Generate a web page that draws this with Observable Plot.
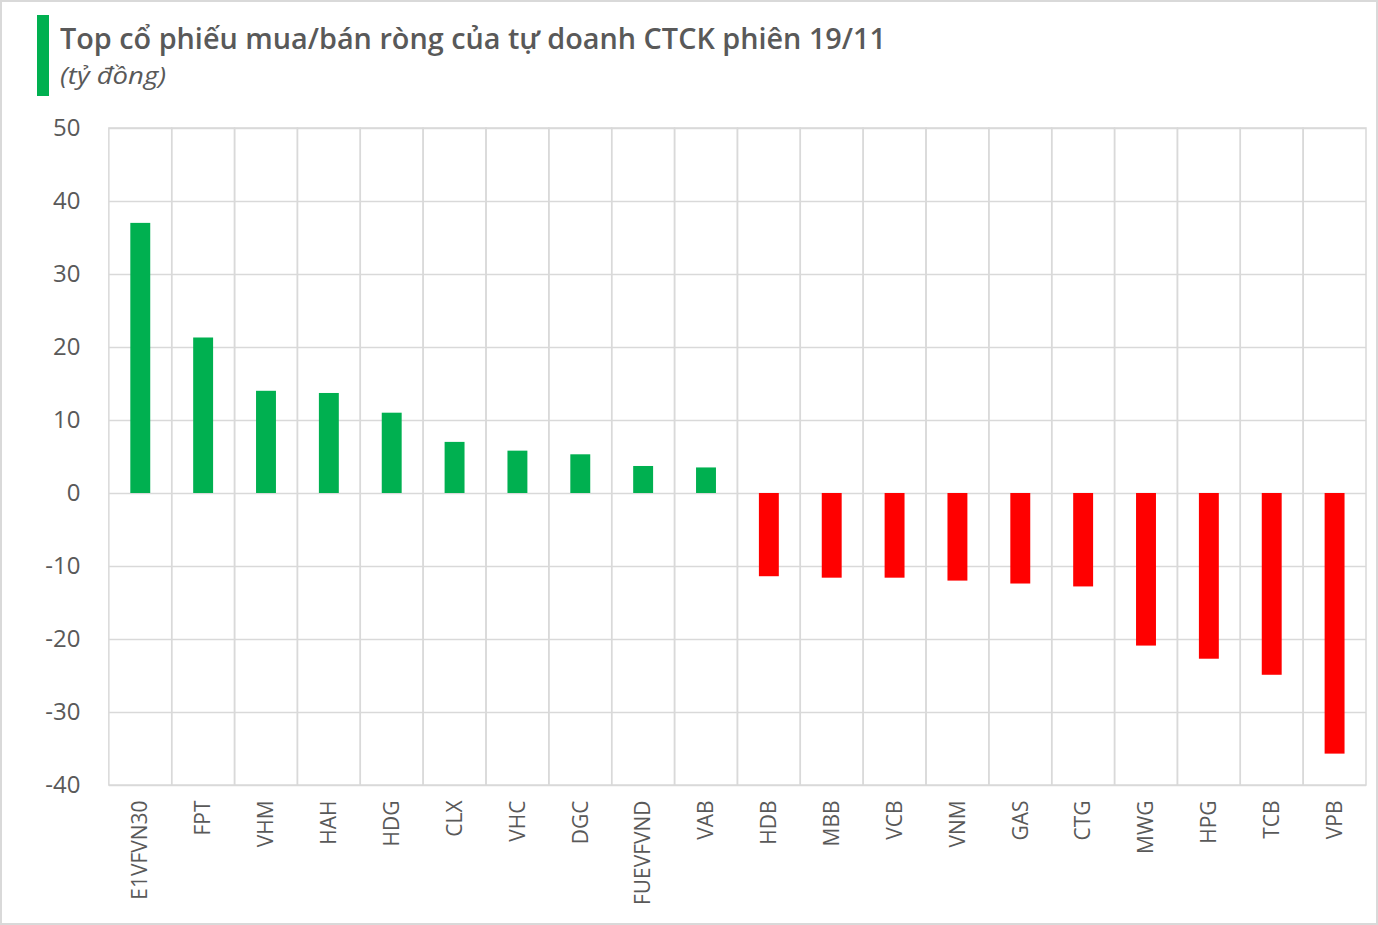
<!DOCTYPE html>
<html>
<head>
<meta charset="utf-8">
<script src="https://cdn.jsdelivr.net/npm/d3@7"></script>
<script src="https://cdn.jsdelivr.net/npm/@observablehq/plot@0.6"></script>
<style>
  html, body { margin: 0; padding: 0; background: #fff; }
  #wrap { position: relative; width: 1378px; height: 925px; box-sizing: border-box; border: 2px solid #d9d9d9; overflow: hidden; background: #fff; }
  #accent { position: absolute; left: 35px; top: 13px; width: 12px; height: 81px; background: #00b050; }
  #title { position: absolute; left: 58px; top: 17px; font-family: "Open Sans", sans-serif; font-weight: 600; font-size: 28px; color: #595959; white-space: nowrap; transform-origin: 0 0; }
  #subtitle { position: absolute; left: 58px; top: 56px; font-family: "Open Sans", sans-serif; font-style: italic; font-weight: 400; font-size: 24px; color: #595959; white-space: nowrap; transform-origin: 0 0; }
  #chart { position: absolute; left: -2px; top: 108px; }
</style>
</head>
<body>
<div id="wrap">
  <div id="accent"></div>
  <div id="title">Top cổ phiếu mua/bán ròng của tự doanh CTCK phiên 19/11</div>
  <div id="subtitle">(tỷ đồng)</div>
  <div id="chart"></div>
</div>
<script>
const codes = ["E1VFVN30","FPT","VHM","HAH","HDG","CLX","VHC","DGC","FUEVFVND","VAB","HDB","MBB","VCB","VNM","GAS","CTG","MWG","HPG","TCB","VPB"];
const values = [37.0, 21.3, 14.0, 13.7, 11.0, 7.0, 5.8, 5.3, 3.7, 3.5, -11.4, -11.6, -11.6, -12.0, -12.4, -12.8, -20.9, -22.7, -24.9, -35.7];
const yTicks = [-40, -30, -20, -10, 0, 10, 20, 30, 40, 50];

const data = codes.map((c, i) => ({code: c, value: values[i]}));

// fit title widths to reference
const t = document.getElementById("title");
t.style.transform = `scaleX(${826 / t.getBoundingClientRect().width})`;
const s = document.getElementById("subtitle");
s.style.transform = `scaleX(${106 / s.getBoundingClientRect().width})`;

const chart = Plot.plot({
  width: 1378,
  height: 811,
  marginLeft: 109,
  marginRight: 10,
  marginTop: 18,
  marginBottom: 135,
  style: {fontFamily: "'Open Sans', sans-serif", color: "#595959", background: "transparent"},
  x: {domain: codes, padding: 0, round: false, label: null},
  y: {domain: [-40, 50], ticks: yTicks, label: null},
  color: {type: "identity"},
  marks: [
    Plot.gridY(yTicks, {stroke: "#d9d9d9", strokeOpacity: 1, strokeWidth: 1.5}),
    Plot.barY(codes, {x: d => d, y1: -40, y2: 50, fill: "none", stroke: "#d9d9d9", strokeWidth: 1.5}),
    Plot.barY(data, {x: "code", y: "value", fill: d => d.value >= 0 ? "#00b050" : "#ff0000", insetLeft: 21.5, insetRight: 21.5}),
    Plot.axisY(yTicks, {tickSize: 0, tickPadding: 29, fontSize: 24, fill: "#595959", tickFormat: d => String(d)}),
    Plot.axisX({tickSize: 0, tickPadding: 15, tickRotate: -90, fontSize: 21, fill: "#595959"})
  ]
});
document.getElementById("chart").appendChild(chart);
</script>
</body>
</html>
